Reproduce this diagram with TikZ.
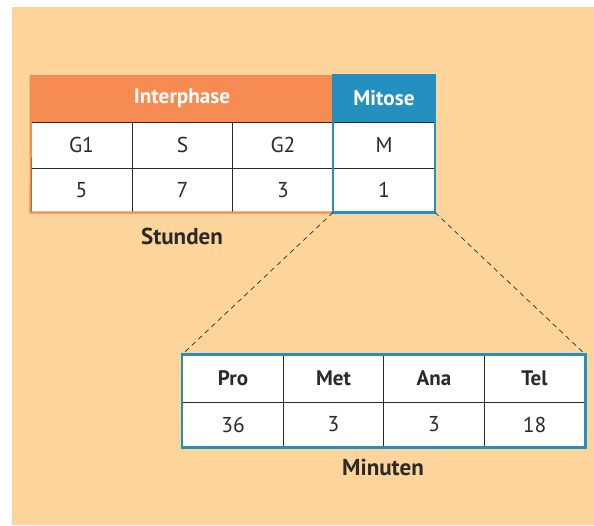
\documentclass[tikz,border=0pt]{standalone}
\usepackage{fontspec}
\setmainfont{PT Sans}
\definecolor{bgbeige}{HTML}{FDD49A}
\definecolor{hdorange}{HTML}{F68C51}
\definecolor{hdblue}{HTML}{2390C0}
\definecolor{gridc}{HTML}{2A2A2A}
\begin{document}
\begin{tikzpicture}[x=1pt,y=-1pt,
  cell/.style={draw=gridc, fill=white, line width=0.9pt, minimum width=101pt, inner sep=0pt,
    font=\fontsize{21.5}{24}\selectfont, text=gridc},
  hcell/.style={cell, font=\fontsize{21}{24}\selectfont\bfseries},
  head/.style={inner sep=0pt, font=\fontsize{21.2}{24}\selectfont\bfseries, text=white},
  lbl/.style={inner sep=0pt, font=\fontsize{23}{26}\selectfont\bfseries, text=gridc},
  zoomline/.style={draw=gridc, line width=0.7pt, dash pattern=on 5pt off 4pt}]
\useasboundingbox (0,0) rectangle (594,525);
\fill[white] (0,0) rectangle (594,525);
\fill[bgbeige] (12,7) rectangle (594,525);
% top table headers
\node[head, fill=hdorange, minimum width=302pt, minimum height=47pt] (interphase) at (182,98.5) {Interphase};
\node[head, fill=hdblue, minimum width=102pt, minimum height=47pt] (mitose) at (384,98.5) {Mitose};
% top table cells
\node[cell, minimum height=46pt] (g1) at (81.5,145) {G1};
\node[cell, minimum height=46pt] (s) at (182.5,145) {S};
\node[cell, minimum height=46pt] (g2) at (283,145) {G2};
\node[cell, minimum height=46pt] (m) at (384,145) {M};
\node[cell, minimum height=44pt] (g1v) at (81.5,190) {5};
\node[cell, minimum height=44pt] (sv) at (182.5,190) {7};
\node[cell, minimum height=44pt] (g2v) at (283,190) {3};
\node[cell, minimum height=44pt] (mv) at (384,190) {1};
% borders
\draw[hdorange, line width=2.2pt] (interphase.north west) -- (g1v.south west) -- (g2v.south east);
\draw[hdblue, line width=2.2pt] (mitose.north west) rectangle (mv.south east);
\node[lbl] (stunden) at (182,236) {Stunden};
% bottom table
\node[hcell, minimum height=47pt] (pro) at (233,378.5) {Pro};
\node[hcell, minimum height=47pt] (met) at (333.5,378.5) {Met};
\node[hcell, minimum height=47pt] (ana) at (434,378.5) {Ana};
\node[hcell, minimum height=47pt] (tel) at (534.5,378.5) {Tel};
\node[cell, minimum height=45pt] (prov) at (233,424.5) {36};
\node[cell, minimum height=45pt] (metv) at (333.5,424.5) {3};
\node[cell, minimum height=45pt] (anav) at (434,424.5) {3};
\node[cell, minimum height=45pt] (telv) at (534.5,424.5) {18};
\draw[hdblue, line width=2.4pt] (pro.north west) rectangle (telv.south east);
\node[lbl] (minuten) at (383,467) {Minuten};
% zoom lines
\draw[zoomline] (mv.south west) -- (pro.north west);
\draw[zoomline] (mv.south east) -- (tel.north east);
\end{tikzpicture}
\end{document}
